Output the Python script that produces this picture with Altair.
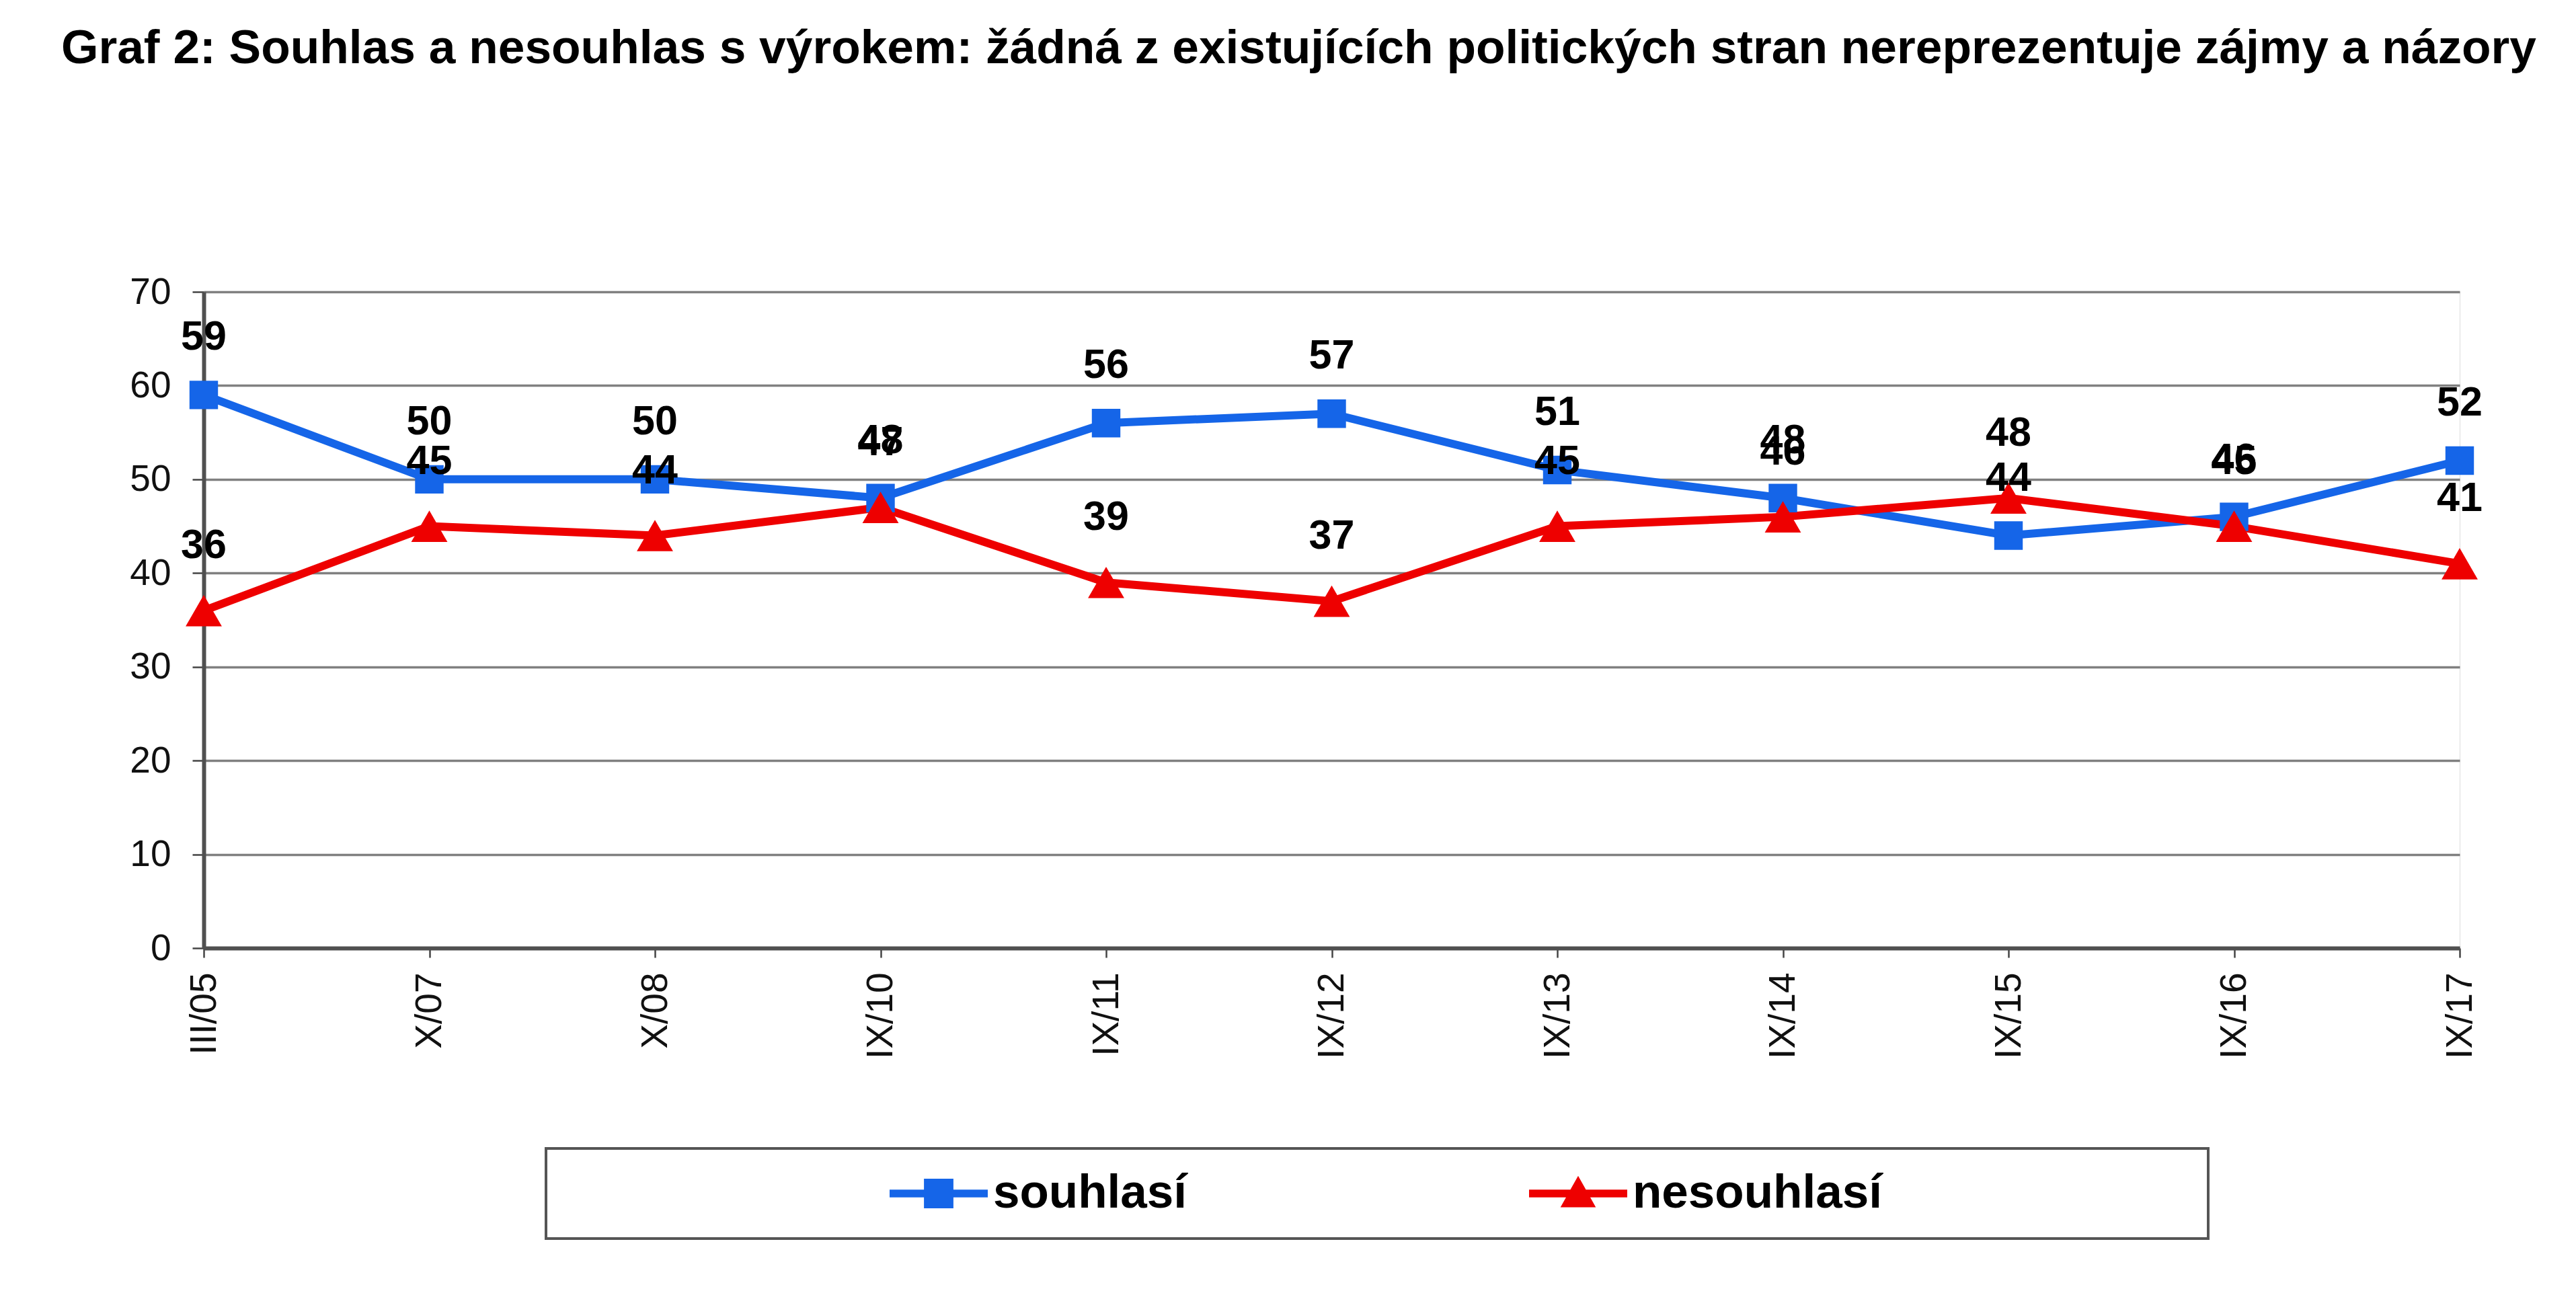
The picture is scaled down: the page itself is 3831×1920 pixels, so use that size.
import altair as alt
import pandas as pd

# ---- data -------------------------------------------------------------
waves = ["III/05", "X/07", "X/08", "IX/10", "IX/11", "IX/12",
         "IX/13", "IX/14", "IX/15", "IX/16", "IX/17"]
souhlasi = [59, 50, 50, 48, 56, 57, 51, 48, 44, 46, 52]
nesouhlasi = [36, 45, 44, 47, 39, 37, 45, 46, 48, 45, 41]
series = ["souhlasí", "nesouhlasí"]
colors = ["#1565E8", "#EE0000"]
y_ticks = [0, 10, 20, 30, 40, 50, 60, 70]
title_text = ("Graf 2: Souhlas a nesouhlas s výrokem: žádná z existujících "
              "politických stran nereprezentuje zájmy a názory")

rows = []
for w, a, b in zip(waves, souhlasi, nesouhlasi):
    rows.append({"vlna": w, "serie": series[0], "hodnota": a})
    rows.append({"vlna": w, "serie": series[1], "hodnota": b})
df = pd.DataFrame(rows)

FONT = "Liberation Sans"
W, H = 3355, 976
PAD = {"left": 303, "top": 434, "right": 3831 - 303 - W, "bottom": 1920 - 434 - H}

x_enc = alt.X("vlna:O", sort=waves, scale=alt.Scale(type="point", padding=0),
              axis=alt.Axis(title=None, labelAngle=270, labelFontSize=55, labelFont=FONT,
                            labelColor="#111", labelPadding=22, tickSize=14,
                            tickColor="#444", tickWidth=2.5, domainColor="#505050",
                            domainWidth=6, grid=False))
y_enc = alt.Y("hodnota:Q", scale=alt.Scale(domain=[0, 70], nice=False, zero=True),
              axis=alt.Axis(title=None, values=y_ticks, labelFontSize=55, labelFont=FONT,
                            labelColor="#111", labelPadding=32, tickSize=17,
                            tickColor="#444", tickWidth=2.5, domainColor="#505050",
                            domainWidth=6, grid=True, gridColor="#808080", gridWidth=3.5))

base = alt.Chart(df)

# legend frame (decoration)
box = alt.Chart(pd.DataFrame({"k": [0]})).mark_rect(
    fill="white", stroke="#555555", strokeWidth=4
).encode(x=alt.value(509), x2=alt.value(2981), y=alt.value(1274), y2=alt.value(1408))

color_scale = alt.Scale(domain=series, range=colors)

lines = base.mark_line(strokeWidth=12).encode(
    x=x_enc, y=y_enc,
    color=alt.Color("serie:N", scale=color_scale, legend=None),
    detail="serie:N",
)

points = base.mark_point(filled=True, opacity=1).encode(
    x=x_enc, y=y_enc,
    color=alt.Color("serie:N", scale=color_scale, legend=None),
    shape=alt.Shape("serie:N", scale=alt.Scale(domain=series, range=["square", "triangle-up"]),
                    legend=None),
    size=alt.Size("serie:N", scale=alt.Scale(domain=series, range=[1800, 2900]), legend=None),
)

# legend symbols: a line with the series marker
p_sq = "M-1,-0.08L1,-0.08L1,0.08L-1,0.08Z M-0.3,-0.3L0.3,-0.3L0.3,0.3L-0.3,0.3Z"
p_tr = "M-1,-0.08L1,-0.08L1,0.08L-1,0.08Z M0,-0.36L0.36,0.28L-0.36,0.28Z"
leg_props = dict(title=None, orient="none", direction="horizontal",
                 legendX=1020, legendY=1268, padding=0,
                 symbolSize=21316, symbolOpacity=1, symbolStrokeWidth=0,
                 labelFont=FONT, labelFontSize=71, labelFontWeight="bold",
                 labelColor="#000", labelOffset=8, labelLimit=2000, columnPadding=508)
legend_layer = base.mark_point(filled=True, opacity=0).encode(
    x=x_enc, y=y_enc,
    color=alt.Color("serie:N", scale=color_scale, legend=alt.Legend(**leg_props)),
    shape=alt.Shape("serie:N", scale=alt.Scale(domain=series, range=[p_sq, p_tr]),
                    legend=alt.Legend(**leg_props)),
)

lab_a = base.transform_filter(alt.datum.serie == series[0]).mark_text(
    font=FONT, fontSize=61, fontWeight="bold", color="#000", dy=-85
).encode(x=x_enc, y=y_enc, text="hodnota:Q")
lab_b = base.transform_filter(alt.datum.serie == series[1]).mark_text(
    font=FONT, fontSize=61, fontWeight="bold", color="#000", dy=-96
).encode(x=x_enc, y=y_enc, text="hodnota:Q")

chart = alt.layer(box, lines, points, legend_layer, lab_a, lab_b).resolve_scale(
    color="independent", shape="independent", size="independent"
).properties(
    width=W, height=H,
    padding=PAD,
    autosize=alt.AutoSizeParams(type="none"),
    title=alt.TitleParams(text=title_text, anchor="start", frame="group", font=FONT,
                          fontSize=71.3, fontWeight="bold", color="#000",
                          baseline="alphabetic", offset=242, dx=-212),
).configure_view(stroke="#8c8c8c", strokeWidth=3).configure(background="white")

chart.save("out.html", embed_options={"renderer": "svg", "actions": False})
